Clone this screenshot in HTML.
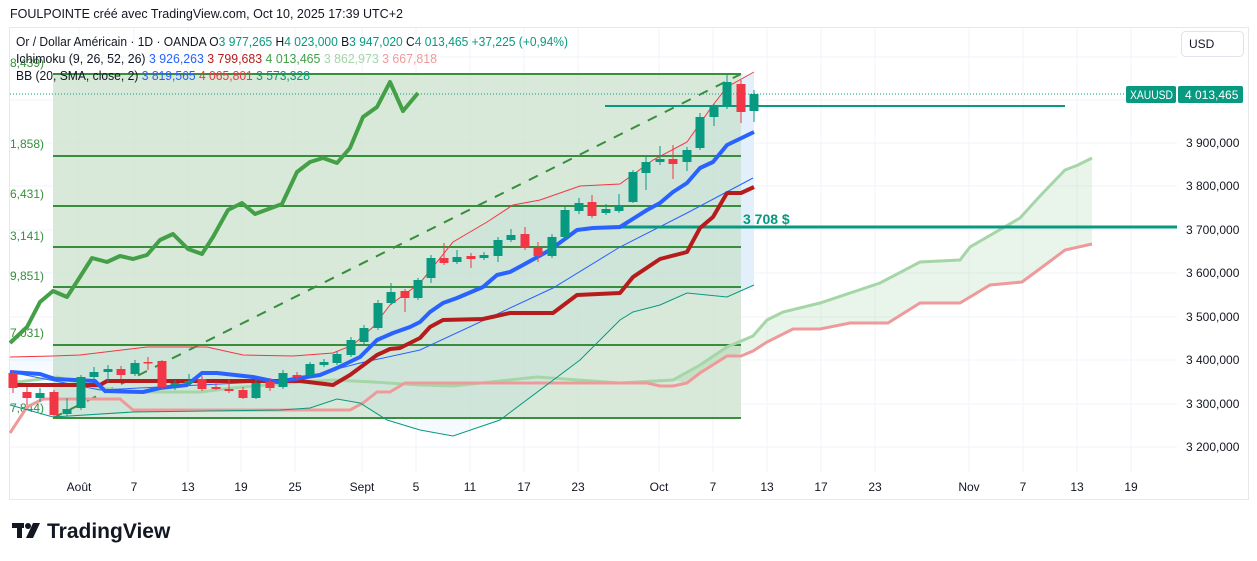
<!DOCTYPE html>
<html><head><meta charset="utf-8"><style>
html,body{margin:0;padding:0;background:#fff;width:1257px;height:561px;overflow:hidden}
svg text{font-family:"Liberation Sans",sans-serif}
</style></head><body>
<svg id="s" width="1257" height="561" xmlns="http://www.w3.org/2000/svg">
<rect x="0" y="0" width="1257" height="561" fill="#fff"/>
<text x="10" y="18" font-size="12.5" fill="#131722" textLength="393" lengthAdjust="spacingAndGlyphs">FOULPOINTE créé avec TradingView.com, Oct 10, 2025 17:39 UTC+2</text>
<rect x="9.5" y="27.5" width="1239" height="472" fill="#fff" stroke="#e6e8ec"/>
<g stroke="#f0f3fa" stroke-width="1">
<line x1="79" y1="28" x2="79" y2="472"/><line x1="134" y1="28" x2="134" y2="472"/><line x1="188" y1="28" x2="188" y2="472"/><line x1="241" y1="28" x2="241" y2="472"/><line x1="295" y1="28" x2="295" y2="472"/><line x1="362" y1="28" x2="362" y2="472"/><line x1="416" y1="28" x2="416" y2="472"/><line x1="470" y1="28" x2="470" y2="472"/><line x1="524" y1="28" x2="524" y2="472"/><line x1="578" y1="28" x2="578" y2="472"/><line x1="659" y1="28" x2="659" y2="472"/><line x1="713" y1="28" x2="713" y2="472"/><line x1="767" y1="28" x2="767" y2="472"/><line x1="821" y1="28" x2="821" y2="472"/><line x1="875" y1="28" x2="875" y2="472"/><line x1="969" y1="28" x2="969" y2="472"/><line x1="1023" y1="28" x2="1023" y2="472"/><line x1="1077" y1="28" x2="1077" y2="472"/><line x1="1131" y1="28" x2="1131" y2="472"/>
<line x1="10" y1="57" x2="1177" y2="57"/><line x1="10" y1="100" x2="1177" y2="100"/><line x1="10" y1="143" x2="1177" y2="143"/><line x1="10" y1="186" x2="1177" y2="186"/><line x1="10" y1="230" x2="1177" y2="230"/><line x1="10" y1="273" x2="1177" y2="273"/><line x1="10" y1="317" x2="1177" y2="317"/><line x1="10" y1="360" x2="1177" y2="360"/><line x1="10" y1="404" x2="1177" y2="404"/><line x1="10" y1="447" x2="1177" y2="447"/>
</g>
<rect x="53" y="74" width="688" height="344" fill="#c8dfc9" fill-opacity="0.7"/>
<rect x="741" y="74" width="13" height="216" fill="#eef5fc"/>
<polygon fill="#2196f3" fill-opacity="0.05" points="10,357 53,356 80,355 147,347 207,347 243,355 293,356 333,353 353,345 373,327 390,305 420,283 453,242 487,222 513,205 540,200 580,186 620,184 653,160 687,142 713,105 727,87 754,72 754,285 727,297 687,293 660,305 633,312 620,320 580,360 500,420 453,436 420,430 387,420 360,403 337,399 310,408 280,410 133,412 53,417 10,405"/>
<polygon fill="#4caf50" fill-opacity="0.12" points="673,380 700,365 727,347 753,336 767,320 783,312 820,303 880,283 920,262 960,260 970,247 1020,218 1040,196 1065,170 1078,165 1092,158 1092,244 1065,250 1045,265 1022,282 990,285 960,303 920,303 888,323 850,323 820,329 793,329 767,342 753,351 727,356 700,373 687,383"/>
<g stroke="#388e3c" stroke-width="2">
<line x1="53" y1="74" x2="741" y2="74"/><line x1="53" y1="156" x2="741" y2="156"/><line x1="53" y1="206" x2="741" y2="206"/><line x1="53" y1="247" x2="741" y2="247"/><line x1="53" y1="287" x2="741" y2="287"/><line x1="53" y1="345" x2="741" y2="345"/><line x1="53" y1="418" x2="741" y2="418"/>
</g>
<line x1="53" y1="418" x2="741" y2="74" stroke="#388e3c" stroke-width="2" stroke-dasharray="10,9"/>
<g font-size="12" fill="#388e3c">
<text x="10" y="148">1,858)</text><text x="10" y="198">6,431)</text><text x="10" y="240">3,141)</text><text x="10" y="280">9,851)</text><text x="10" y="337">7,031)</text><text x="10" y="412">7,844)</text><text x="10" y="67">8,439)</text>
</g>
<polyline fill="none" stroke="#a5d6a7" stroke-width="3" points="10,383 57,377 100,388 133,392 200,392 233,388 300,382 333,380 373,382 420,385 453,386 537,377 620,383 673,380 700,365 727,347 753,336 767,320 783,312 820,303 880,283 920,262 960,260 970,247 1020,218 1040,196 1065,170 1078,165 1092,158"/>
<polyline fill="none" stroke="#ef9a9a" stroke-width="3" points="10,433 27,407 43,399 120,399 133,410 350,410 363,403 377,392 390,392 405,383 420,383 647,383 660,386 673,386 687,383 700,373 727,356 741,356 753,351 767,342 793,329 820,329 850,323 888,323 920,303 960,303 990,285 1022,282 1045,265 1065,250 1092,244"/>
<polyline fill="none" stroke="#f23645" stroke-width="1" points="10,357 53,356 80,355 147,347 207,347 243,355 293,356 333,353 353,345 373,327 390,305 420,283 453,242 487,222 513,205 540,200 580,186 620,184 653,160 687,142 713,105 727,87 754,72"/>
<polyline fill="none" stroke="#089981" stroke-width="1" points="10,405 53,417 133,412 280,410 310,408 337,399 360,403 387,420 420,430 453,436 500,420 580,360 620,320 633,312 660,305 687,293 727,297 754,285"/>
<polyline fill="none" stroke="#2962ff" stroke-width="1" points="10,372 100,390 200,385 300,380 333,370 360,363 420,350 553,288 620,247 687,213 753,178"/>
<line x1="10" y1="94" x2="1125" y2="94" stroke="#089981" stroke-dasharray="1,2"/>
<line x1="605" y1="106" x2="1065" y2="106" stroke="#089981" stroke-width="2"/>
<line x1="620" y1="227" x2="1177" y2="227" stroke="#089981" stroke-width="3"/>
<text x="743" y="224" font-size="14" font-weight="bold" fill="#089981">3 708 $</text>
<polyline fill="none" stroke="#b71c1c" stroke-width="4" stroke-linejoin="round" points="10,385 100,385 107,381 300,381 333,385 350,375 377,355 390,349 400,348 420,338 430,327 443,320 483,319 510,313 553,313 577,295 620,293 633,277 660,259 687,252 700,228 713,217 727,193 741,193 754,187"/>
<polyline fill="none" stroke="#2962ff" stroke-width="4" stroke-linejoin="round" points="10,372 40,374 55,379 95,381 105,391 143,392 160,388 187,385 202,373 217,373 253,377 277,382 300,378 320,375 337,368 360,357 377,340 393,333 410,327 420,322 430,312 443,303 457,298 483,287 497,275 510,272 523,265 550,250 577,230 593,228 620,227 647,210 660,203 673,192 687,183 700,168 713,162 727,145 754,132"/>
<g id="c"></g>
<polyline fill="none" stroke="#43a047" stroke-width="4" stroke-linejoin="round" points="10,343 27,327 40,302 53,291 67,297 78,280 92,258 107,262 120,256 133,259 147,255 160,240 173,234 188,249 202,254 213,237 228,210 242,203 255,214 282,204 297,172 310,162 323,158 337,163 350,148 363,117 377,107 390,82 403,111 418,93"/>
<g font-size="12.5" fill="#131722">
<text x="16" y="46" textLength="552" lengthAdjust="spacingAndGlyphs">Or / Dollar Américain · 1D · OANDA  O<tspan fill="#089981">3 977,265</tspan>  H<tspan fill="#089981">4 023,000</tspan>  B<tspan fill="#089981">3 947,020</tspan>  C<tspan fill="#089981">4 013,465  +37,225 (+0,94%)</tspan></text>
<text x="16" y="63" textLength="421" lengthAdjust="spacingAndGlyphs">Ichimoku (9, 26, 52, 26)  <tspan fill="#2962ff">3 926,263</tspan>  <tspan fill="#b71c1c">3 799,683</tspan>  <tspan fill="#43a047">4 013,465</tspan>  <tspan fill="#a5d6a7">3 862,973</tspan>  <tspan fill="#ef9a9a">3 667,818</tspan></text>
<text x="16" y="80" textLength="294" lengthAdjust="spacingAndGlyphs">BB (20, SMA, close, 2)  <tspan fill="#2962ff">3 819,565</tspan>  <tspan fill="#f23645">4 065,801</tspan>  <tspan fill="#089981">3 573,328</tspan></text>
</g>
<rect x="1181.5" y="31.5" width="62" height="25" rx="4" fill="#fff" stroke="#e0e3eb"/>
<text x="1189" y="48" font-size="12" fill="#131722">USD</text>
<rect x="1126" y="86" width="50" height="17" rx="2" fill="#089981"/>
<text x="1130" y="99" font-size="12" fill="#fff" textLength="43" lengthAdjust="spacingAndGlyphs">XAUUSD</text>
<rect x="1178" y="86" width="65" height="17" rx="2" fill="#089981"/>
<text x="1185" y="99" font-size="12" fill="#fff">4 013,465</text>
<g font-size="12" fill="#131722">
<text x="1186" y="147">3 900,000</text><text x="1186" y="190">3 800,000</text><text x="1186" y="234">3 700,000</text><text x="1186" y="277">3 600,000</text><text x="1186" y="321">3 500,000</text><text x="1186" y="364">3 400,000</text><text x="1186" y="408">3 300,000</text><text x="1186" y="451">3 200,000</text>
</g>
<g font-size="12" fill="#131722" text-anchor="middle">
<text x="79" y="491">Août</text><text x="134" y="491">7</text><text x="188" y="491">13</text><text x="241" y="491">19</text><text x="295" y="491">25</text><text x="362" y="491">Sept</text><text x="416" y="491">5</text><text x="470" y="491">11</text><text x="524" y="491">17</text><text x="578" y="491">23</text><text x="659" y="491">Oct</text><text x="713" y="491">7</text><text x="767" y="491">13</text><text x="821" y="491">17</text><text x="875" y="491">23</text><text x="969" y="491">Nov</text><text x="1023" y="491">7</text><text x="1077" y="491">13</text><text x="1131" y="491">19</text>
</g>
<g fill="#131722">
<rect x="12" y="523" width="12" height="5"/><rect x="17" y="523" width="5" height="15"/>
<circle cx="28" cy="526" r="3"/><polygon points="33,523 40,523 33,538 26,538"/>
</g>
<text x="47" y="538" font-size="21" font-weight="bold" fill="#131722">TradingView</text>
</svg>
<script>
var d=[[13,'r',373,388,370,393],[27,'r',392,398,387,405],[40,'g',393,398,388,402],[54,'r',392,415,390,418],[67,'g',409,414,398,416],[81,'g',377,408,375,410],[94,'g',372,377,367,380],[108,'g',369,372,365,382],[121,'r',369,375,366,379],[135,'g',363,374,360,376],[148,'r',362,363,357,370],[162,'r',361,387,360,389],[175,'g',383,385,380,390],[189,'g',381,383,374,386],[202,'r',379,389,376,391],[216,'r',387,389,382,390],[229,'r',389,391,379,393],[243,'r',390,398,387,399],[256,'g',383,398,380,399],[270,'r',382,388,378,391],[283,'g',373,387,370,389],[297,'r',375,377,372,380],[310,'g',364,375,362,377],[324,'g',362,365,359,367],[337,'g',354,363,351,365],[351,'g',340,355,337,357],[364,'g',328,342,325,344],[378,'g',303,328,300,330],[391,'g',292,303,283,305],[405,'r',291,298,289,312],[418,'g',280,298,278,300],[431,'g',258,278,255,283],[444,'r',258,263,243,265],[457,'g',257,262,250,264],[471,'r',256,259,253,268],[484,'g',255,258,252,260],[498,'g',240,256,237,262],[511,'g',235,240,229,242],[525,'r',234,248,227,250],[538,'r',248,256,242,262],[552,'g',237,256,234,258],[565,'g',210,237,207,239],[579,'g',203,211,198,214],[592,'r',202,216,195,218],[606,'g',209,213,204,215],[619,'g',206,211,194,213],[633,'g',172,202,170,203],[646,'g',162,173,156,190],[660,'g',159,162,146,165],[673,'r',159,164,145,179],[687,'g',150,162,147,171],[700,'g',117,148,113,150],[714,'g',107,117,104,126],[727,'g',82,107,75,109],[741,'r',84,112,80,123],[754,'g',94,111,90,122]];
var g=document.getElementById('c'),h='';
d.forEach(function(c){var col=c[1]=='g'?'#089981':'#f23645';
h+='<line x1="'+c[0]+'" y1="'+c[4]+'" x2="'+c[0]+'" y2="'+c[5]+'" stroke="'+col+'" stroke-width="1"/>';
h+='<rect x="'+(c[0]-4.5)+'" y="'+c[2]+'" width="9" height="'+Math.max(1.5,c[3]-c[2])+'" fill="'+col+'"/>';});
g.innerHTML=h;
</script>
</body></html>
